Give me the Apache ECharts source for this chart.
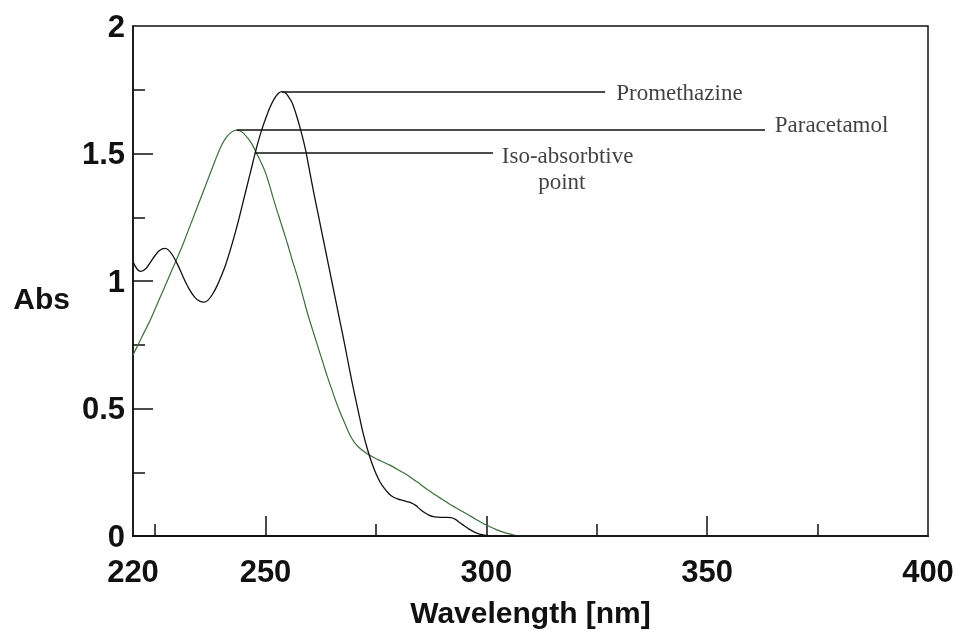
<!DOCTYPE html>
<html>
<head>
<meta charset="utf-8">
<script src="https://cdn.jsdelivr.net/npm/echarts@6/dist/echarts.min.js"></script>
<style>html,body{margin:0;padding:0;background:#fff}#c{width:957px;height:630px}</style>
</head>
<body>
<div id="c"></div>
<script>
// ---- Data ----
const promWavelength = [220,221,221.8,223,224,225,226,227.2,228,229,230,231,232,233,234,235,236,237,238,239,240,241,242,243,244,245,246,247,248,249,250,251,252,253,253.7,254.5,255,256,257,258,259,260,261,262,263,264,265,266,267,268,269,270,271,272,273,274,275,276,277,278,279,280,281,282,283,284,285,286,287,288,289,290,291,292,293,294,295,296,297,298,299,300,302,400];
const promAbs = [1.075,1.045,1.038,1.05,1.075,1.10,1.12,1.128,1.122,1.10,1.068,1.03,0.992,0.96,0.936,0.922,0.917,0.925,0.948,0.98,1.02,1.065,1.12,1.18,1.245,1.315,1.385,1.455,1.525,1.585,1.635,1.68,1.715,1.737,1.743,1.737,1.728,1.70,1.65,1.59,1.52,1.43,1.34,1.255,1.17,1.085,1.00,0.915,0.83,0.745,0.655,0.57,0.49,0.41,0.345,0.29,0.245,0.21,0.185,0.165,0.152,0.145,0.14,0.135,0.13,0.12,0.105,0.092,0.082,0.076,0.074,0.073,0.073,0.072,0.065,0.052,0.04,0.028,0.018,0.01,0.005,0.002,0,0];

const paraWavelength = [220,221,222,223,224,225,226,227,228,229,230,231,232,233,234,235,236,237,238,239,240,241,242,243,243.5,244,245,246,247,248,249,250,251,252,253,254,255,256,257,258,259,260,261,262,263,264,265,266,267,268,269,270,271,272,273,274,275,276,277,278,279,280,281,282,283,284,285,286,287,288,289,290,291,292,293,294,295,296,297,298,299,300,301,302,303,304,305,306,307,308,400];
const paraAbs = [0.71,0.745,0.78,0.815,0.85,0.89,0.93,0.97,1.01,1.05,1.09,1.13,1.175,1.22,1.265,1.31,1.355,1.40,1.445,1.49,1.53,1.56,1.58,1.59,1.592,1.59,1.58,1.56,1.535,1.50,1.465,1.425,1.37,1.31,1.255,1.20,1.145,1.085,1.03,0.97,0.905,0.845,0.79,0.735,0.68,0.625,0.575,0.525,0.48,0.44,0.40,0.37,0.35,0.335,0.323,0.313,0.303,0.295,0.287,0.279,0.27,0.26,0.25,0.24,0.228,0.216,0.204,0.19,0.178,0.166,0.155,0.144,0.133,0.122,0.112,0.102,0.092,0.082,0.072,0.062,0.052,0.043,0.035,0.027,0.02,0.014,0.009,0.005,0.002,0,0];

const xLabelValues = [220,250,300,350,400];
const xMajorTicks = [250,300,350];
const xMinorTicks = [225,275,325,375];
const yLabelValues = [0,0.5,1,1.5,2];
const yMajorTicks = [0.5,1,1.5];
const yMinorTicks = [0.25,0.75,1.25,1.75];

// annotation leader lines (data units)
const annotLineStart = [[253.7,1.741],[243.5,1.592],[247.6,1.502]];
const annotLineEnd   = [[326.9,1.741],[363.1,1.592],[301.5,1.502]];
// annotation texts (data units)
const annotTexts = ['Promethazine','Paracetamol','Iso-absorbtive','point'];
const annotTextPos = [[329.4,1.735],[365.3,1.608],[303.5,1.486],[317.1,1.385]];
const annotTextAlign = ['left','left','left','center'];

// ---- Chart ----
const zip = (a,b) => a.map((v,i)=>[v,b[i]]);
const tickFont = {fontFamily:'Liberation Sans, Arial, sans-serif', fontWeight:'bold', fontSize:31, color:'#111'};

const series = [
  {type:'line', name:'Promethazine', data: zip(promWavelength, promAbs), showSymbol:false, smooth:0.3,
   lineStyle:{color:'#111', width:1.3}, z:3, xAxisIndex:0, yAxisIndex:0},
  {type:'line', name:'Paracetamol', data: zip(paraWavelength, paraAbs), showSymbol:false, smooth:0.3,
   lineStyle:{color:'#3b6e3b', width:1.2}, z:2, xAxisIndex:0, yAxisIndex:0}
];
annotLineStart.forEach((s,i)=>{
  series.push({type:'line', data:[s, annotLineEnd[i]], showSymbol:false, silent:true,
    lineStyle:{color:'#111', width:1.4}, z:4, xAxisIndex:0, yAxisIndex:0});
});
annotTexts.forEach((t,i)=>{
  series.push({type:'scatter', data:[annotTextPos[i]], symbolSize:1, itemStyle:{color:'transparent'}, silent:true,
    xAxisIndex:0, yAxisIndex:0, z:5,
    label:{show:true, position:'inside', formatter:t, align:annotTextAlign[i], verticalAlign:'middle',
      fontFamily:'Liberation Serif, Times New Roman, serif', fontSize:23, color:'#111'}});
});

const chart = echarts.init(document.getElementById('c'), null, {renderer:'canvas'});
chart.setOption({
  animation:false,
  backgroundColor:'#fff',
  grid:{left:133, right:29, top:26, bottom:94, outerBoundsMode:'none', containLabel:false,
        show:true, borderColor:'#111', borderWidth:1.5, backgroundColor:'transparent'},
  xAxis:[
    {type:'value', min:220, max:400, position:'bottom',
     name:'Wavelength [nm]', nameLocation:'middle', nameGap:64,
     nameTextStyle:{fontFamily:'Liberation Sans, Arial, sans-serif', fontWeight:'bold', fontSize:30, color:'#111'},
     axisLine:{show:true, lineStyle:{color:'#111', width:2.2}},
     axisTick:{show:true, inside:true, length:20, customValues:xMajorTicks, lineStyle:{color:'#111', width:1.5}},
     axisLabel:Object.assign({show:true, margin:22, customValues:xLabelValues}, tickFont),
     splitLine:{show:false}},
    {type:'value', min:220, max:400, position:'bottom', gridIndex:0,
     axisLine:{show:false},
     axisTick:{show:true, inside:true, length:12, customValues:xMinorTicks, lineStyle:{color:'#111', width:1.5}},
     axisLabel:{show:false}, splitLine:{show:false}}
  ],
  yAxis:[
    {type:'value', min:0, max:2, position:'left',
     name:'Abs', nameLocation:'middle', nameRotate:0, nameGap:63,
     nameTextStyle:{fontFamily:'Liberation Sans, Arial, sans-serif', fontWeight:'bold', fontSize:30, color:'#111', verticalAlign:'top', lineHeight:40},
     axisLine:{show:true, lineStyle:{color:'#111', width:1.5}},
     axisTick:{show:true, inside:true, length:20, customValues:yMajorTicks, lineStyle:{color:'#111', width:1.5}},
     axisLabel:Object.assign({show:true, margin:8, customValues:yLabelValues, formatter:v=>String(v), verticalAlign:'top', lineHeight:4}, tickFont),
     splitLine:{show:false}},
    {type:'value', min:0, max:2, position:'left', gridIndex:0,
     axisLine:{show:false},
     axisTick:{show:true, inside:true, length:12, customValues:yMinorTicks, lineStyle:{color:'#111', width:1.5}},
     axisLabel:{show:false}, splitLine:{show:false}}
  ],
  series: series
});
</script>
</body>
</html>
